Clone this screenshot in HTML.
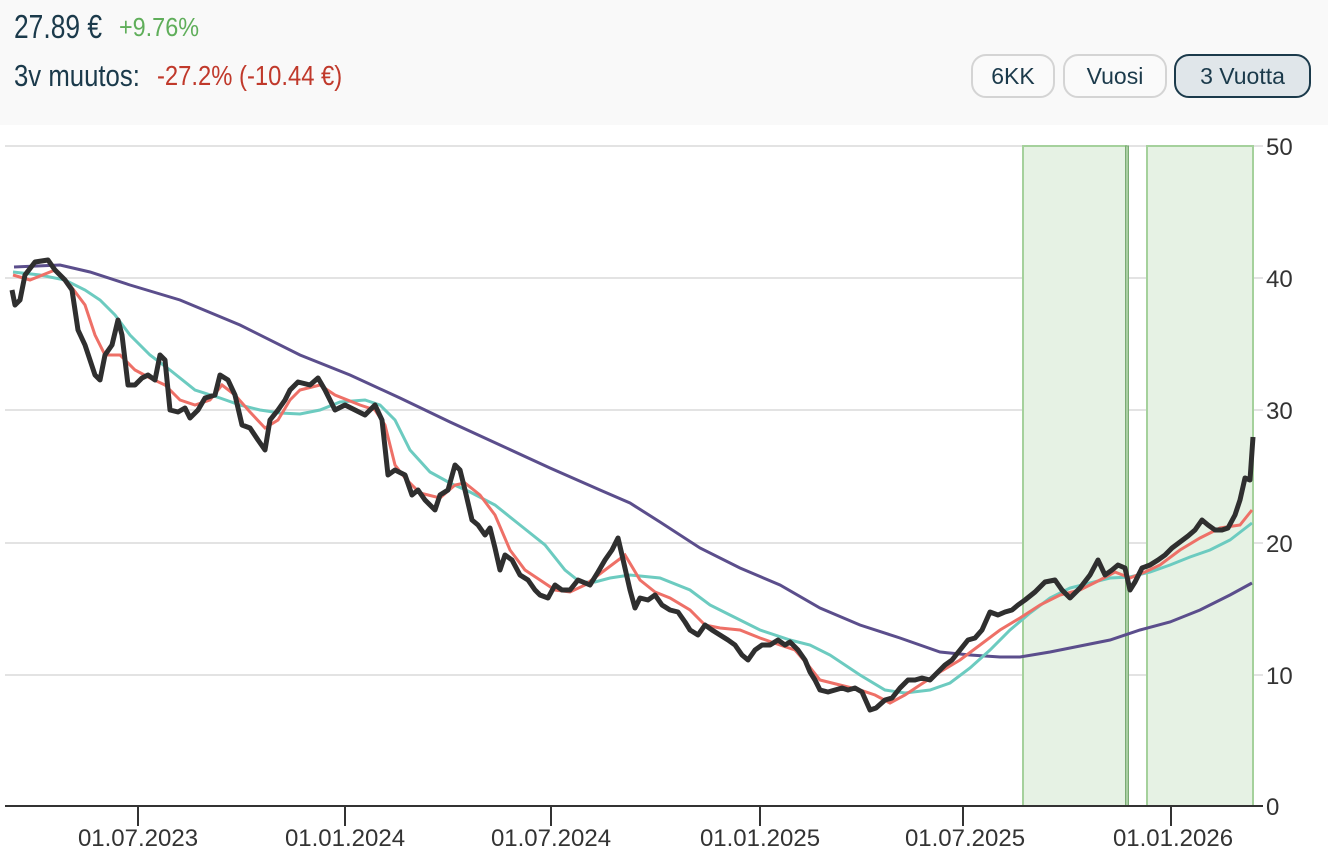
<!DOCTYPE html>
<html><head><meta charset="utf-8"><style>
body{margin:0;width:1328px;height:854px;background:#fff;overflow:hidden;font-family:"Liberation Sans",sans-serif;position:relative}
.hdr{position:absolute;left:0;top:0;width:1328px;height:125px;background:#f9f9f9}
.t{position:absolute;white-space:nowrap;transform-origin:0 0}
.btn{position:absolute;top:54px;height:44px;box-sizing:border-box;border:2px solid #d4d4d4;border-radius:15px;background:#fafafa;color:#1b3a4b;font-size:23px;line-height:40px;text-align:center}
</style></head><body>
<div class="hdr"></div>
<div class="t" style="left:14px;top:8px;font-size:33px;color:#1b3a4b;transform:scaleX(0.8)">27.89 €</div>
<div class="t" style="left:119px;top:12px;font-size:26px;color:#5fae5a;transform:scaleX(0.9)">+9.76%</div>
<div class="t" style="left:14px;top:58px;font-size:31px;color:#1b3a4b;transform:scaleX(0.83)">3v muutos:</div>
<div class="t" style="left:157px;top:60px;font-size:28px;color:#c0392b;transform:scaleX(0.85)">-27.2% (-10.44 €)</div>
<div class="btn" style="left:971px;width:84px">6KK</div>
<div class="btn" style="left:1063px;width:104px">Vuosi</div>
<div class="btn" style="left:1174px;width:137px;border-color:#1b3a4b;background:#e0e6ea">3 Vuotta</div>
<svg width="1328" height="854" style="position:absolute;left:0;top:0">
<g stroke="#e3e3e3" stroke-width="2"><line x1="5" x2="1263" y1="146" y2="146"/><line x1="5" x2="1263" y1="278" y2="278"/><line x1="5" x2="1263" y1="410" y2="410"/><line x1="5" x2="1263" y1="543" y2="543"/><line x1="5" x2="1263" y1="675" y2="675"/></g>
<rect x="1023" y="146" width="103" height="660" fill="#e6f2e4" stroke="#a5d19c" stroke-width="2"/>
<rect x="1125.5" y="146" width="3" height="660" fill="#a9cfa2" stroke="#7aab74" stroke-width="1"/>
<rect x="1147" y="146" width="106" height="660" fill="#e6f2e4" stroke="#a5d19c" stroke-width="2"/>
<polyline fill="none" stroke="#5b4e8c" stroke-width="3" points="14,267 60,265 90,272 130,285 180,300 240,325 300,355 350,375 400,398 450,422 500,445 550,468 600,490 630,503 660,522 700,548 740,568 780,585 820,608 860,625 900,638 940,652 970,655 1000,657 1020,657 1050,652 1080,646 1110,640 1140,630 1170,622 1200,610 1230,595 1252,583"/>
<polyline fill="none" stroke="#6ccbc0" stroke-width="3" points="13,272 40,275 65,280 85,290 100,300 115,315 130,335 150,355 170,370 195,390 220,398 240,405 260,410 280,413 300,414 320,410 340,402 365,400 380,405 395,420 410,450 430,472 450,483 470,492 495,505 520,525 545,545 565,570 580,582 595,582 610,578 630,575 660,578 690,590 710,605 730,615 760,630 790,640 810,645 830,655 860,675 885,690 905,693 930,690 950,683 970,668 990,650 1010,630 1030,613 1050,598 1070,588 1090,583 1110,578 1130,577 1150,572 1170,565 1190,557 1210,550 1230,540 1252,523"/>
<polyline fill="none" stroke="#ee7067" stroke-width="3" points="13,275 30,280 55,270 70,285 85,305 95,335 105,355 120,355 135,370 150,378 165,385 180,400 195,405 210,400 222,385 235,395 250,412 265,428 278,420 290,400 300,390 320,385 335,395 360,405 375,410 385,425 395,465 405,478 420,493 440,498 455,485 465,483 480,495 495,515 510,550 525,570 540,580 555,590 570,592 585,585 605,570 625,555 640,580 655,592 670,598 690,610 705,625 720,628 740,630 760,638 780,645 795,650 808,665 820,680 840,685 860,690 875,695 890,703 905,695 920,685 940,672 960,660 980,645 1000,630 1020,618 1040,605 1060,595 1080,590 1100,580 1115,572 1130,578 1145,572 1160,565 1180,550 1200,538 1220,528 1240,525 1252,510"/>
<polyline fill="none" stroke="#2f2f2f" stroke-width="5" stroke-linejoin="round" points="12,290 15,305 20,300 25,275 35,262 48,260 55,270 65,280 72,290 78,330 85,345 95,375 100,380 105,355 112,345 118,320 122,335 128,385 135,385 142,378 148,375 155,380 160,355 165,360 170,410 178,412 185,408 190,418 198,410 205,398 215,395 220,375 228,380 235,395 242,425 250,428 258,440 265,450 270,420 278,410 285,400 290,390 298,382 310,385 318,378 325,390 335,410 345,405 355,410 365,415 375,405 382,420 388,475 395,470 405,475 412,495 418,490 425,500 435,510 440,495 448,490 455,465 460,470 465,490 472,520 478,525 485,535 490,528 495,548 500,570 505,555 512,560 520,575 528,580 535,590 540,595 548,598 555,585 562,590 570,590 578,580 590,585 598,572 605,560 612,550 618,538 622,555 630,590 635,608 640,598 648,600 655,595 662,605 670,610 678,612 685,622 690,630 698,635 705,625 712,630 720,635 728,640 735,645 742,655 748,660 755,650 762,645 770,645 778,640 785,645 790,642 798,650 805,660 810,672 815,680 820,690 828,692 835,690 842,688 848,690 855,688 862,692 870,710 876,708 885,700 892,698 900,688 908,680 915,680 922,678 930,680 938,672 945,665 952,660 960,650 968,640 975,638 982,630 990,612 998,615 1005,612 1012,610 1018,605 1025,600 1035,592 1045,582 1055,580 1062,590 1070,598 1080,588 1090,575 1098,560 1105,575 1112,570 1118,565 1125,568 1130,590 1135,582 1142,568 1150,565 1158,560 1165,555 1172,548 1180,542 1188,536 1195,530 1202,520 1208,525 1215,530 1222,530 1228,528 1235,515 1240,500 1245,478 1250,480 1253,437"/>
<line x1="5" x2="1263" y1="806" y2="806" stroke="#333" stroke-width="2"/>
<g stroke="#333" stroke-width="2"><line x1="138" x2="138" y1="806" y2="826"/><line x1="345" x2="345" y1="806" y2="826"/><line x1="551" x2="551" y1="806" y2="826"/><line x1="760" x2="760" y1="806" y2="826"/><line x1="963" x2="963" y1="806" y2="826"/><line x1="1171" x2="1171" y1="806" y2="826"/></g>
<g font-family="Liberation Sans, sans-serif" font-size="24" fill="#333" text-anchor="middle"><text x="138" y="846">01.07.2023</text><text x="345" y="846">01.01.2024</text><text x="551" y="846">01.07.2024</text><text x="760" y="846">01.01.2025</text><text x="965" y="846">01.07.2025</text><text x="1173" y="846">01.01.2026</text></g>
<g font-family="Liberation Sans, sans-serif" font-size="24" fill="#333" text-anchor="start"><text x="1266" y="155">50</text><text x="1266" y="287">40</text><text x="1266" y="419">30</text><text x="1266" y="552">20</text><text x="1266" y="684">10</text><text x="1266" y="815">0</text></g>
</svg>
</body></html>
